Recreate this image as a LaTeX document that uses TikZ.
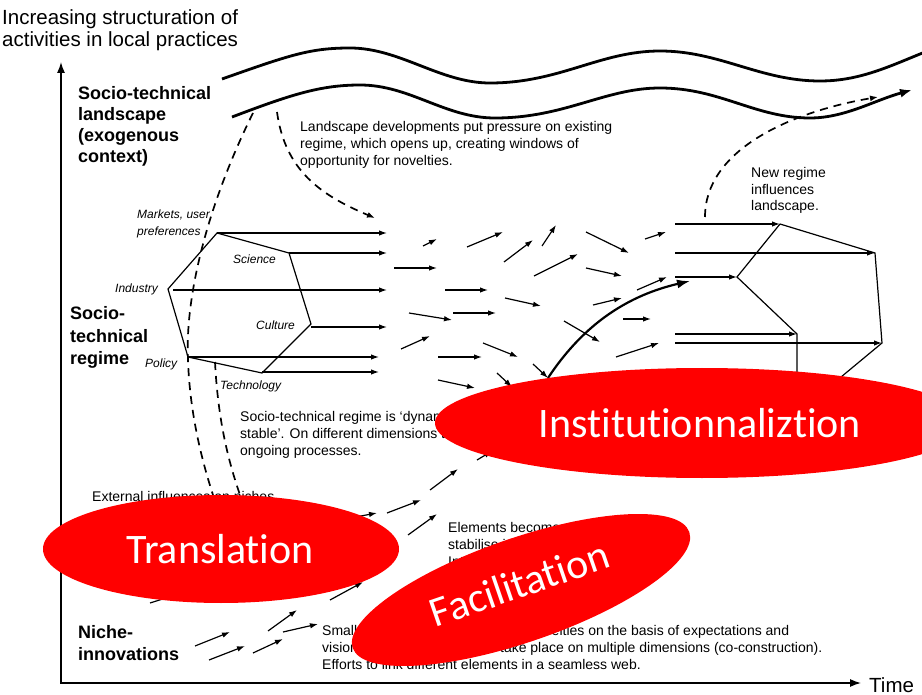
\documentclass[tikz,border=0pt]{standalone}
\usepackage{fontspec}
\setmainfont{Liberation Sans}
\newfontfamily\calib[Ligatures=NoCommon]{Carlito}
\usetikzlibrary{arrows.meta,shapes.geometric}
\newcommand\farr[3]{\coordinate (#1a) at (#2); \coordinate (#1b) at (#3); \draw[arr] (#1a) -- (#1b);}
\begin{document}
\begin{tikzpicture}[x=1pt,y=-1pt,
  txt/.style={font=\fontsize{14}{16}\selectfont, inner sep=0pt, anchor=base west},
  itl/.style={font=\fontsize{12}{14}\selectfont\itshape, inner sep=0pt, anchor=base west},
  bld/.style={font=\fontsize{18}{21}\selectfont\bfseries, inner sep=0pt, anchor=base west},
  big/.style={font=\fontsize{20.5}{22}\selectfont, inner sep=0pt, anchor=base west},
  arr/.style={-{Latex[length=8pt,width=5.5pt]}, line width=1.2pt},
  wave/.style={line width=2.8pt},
  dsh/.style={line width=1.7pt, dash pattern=on 8pt off 6pt},
  redell/.style={ellipse, fill=red, draw=none, inner sep=0pt},
  redtxt/.style={font=\fontsize{42}{45}\calib, text=white, inner sep=0pt, anchor=base}
]
\useasboundingbox[fill=white] (0,0) rectangle (922,695);

% axes
\coordinate (o) at (61,683);
\coordinate (ytop) at (61,62);
\coordinate (xend) at (861,683);
\draw[line width=1.3pt, -{Latex[length=11pt,width=8pt]}] (o) -- (ytop);
\draw[line width=1.3pt, -{Latex[length=11pt,width=8pt]}] (60,683) -- (xend);
\node[big] (time) at (869,692) {Time};
\node[big] (ttl1) at (2,25) {Increasing structuration of};
\node[big] (ttl2) at (2,47) {activities in local practices};

% level labels
\node[bld] (l1) at (78,100) {Socio-technical};
\node[bld] (l2) at (78,121) {landscape};
\node[bld] (l3) at (78,142) {(exogenous};
\node[bld] (l4) at (78,163) {context)};
\node[bld] (r1) at (70,320) {Socio-};
\node[bld] (r2) at (70,342) {technical};
\node[bld] (r3) at (70,364) {regime};
\node[bld] (ni1) at (78,638) {Niche-};
\node[bld] (ni2) at (78,660) {innovations};

% landscape waves
\draw[wave] (222,79) .. controls (290,55) and (310,48) .. (350,48)
  .. controls (400,48) and (440,83) .. (490,83)
  .. controls (560,83) and (600,51) .. (660,51)
  .. controls (720,51) and (760,81) .. (820,81)
  .. controls (860,81) and (890,66) .. (925,52);
\coordinate (wtip) at (912,90);
\draw[wave, -{Latex[length=12pt,width=9pt]}] (232,117) .. controls (290,95) and (320,85) .. (360,85)
  .. controls (410,85) and (445,118) .. (495,118)
  .. controls (565,118) and (605,88) .. (660,88)
  .. controls (720,88) and (755,118) .. (810,118)
  .. controls (845,118) and (875,100) .. (wtip);

% landscape texts
\node[txt] (lt1) at (300,132) {Landscape developments put pressure on existing};
\node[txt] (lt2) at (300,149) {regime, which opens up, creating windows of};
\node[txt] (lt3) at (300,166) {opportunity for novelties.};
\node[txt] (nr1) at (751,178) {New regime};
\node[txt] (nr2) at (751,195) {influences};
\node[txt] (nr3) at (751,211) {landscape.};

% dashed lines
\coordinate (da0) at (253,113);
\coordinate (da1) at (213,495);
\draw[dsh] (da0) .. controls (205,210) and (185,300) .. (188,360) .. controls (190,420) and (205,470) .. (da1);
\coordinate (db0) at (277,112);
\coordinate (db1) at (375,218);
\draw[dsh, -{Latex[length=8pt,width=6pt]}] (db0) .. controls (285,170) and (320,195) .. (db1);
\coordinate (dc0) at (215,362);
\coordinate (dc1) at (240,495);
\draw[dsh] (dc0) .. controls (218,420) and (228,460) .. (dc1);
\coordinate (dd0) at (705,217);
\coordinate (dd1) at (878,97);
\draw[dsh, -{Latex[length=8pt,width=6pt]}] (dd0) .. controls (705,150) and (790,112) .. (dd1);

% left hexagon
\coordinate (hm) at (217,233);
\coordinate (hs) at (289,253);
\coordinate (hc) at (311,324);
\coordinate (ht) at (262,373);
\coordinate (hp) at (188,357);
\coordinate (hi) at (168,289);
\draw[line width=1.2pt] (hm) -- (hs) -- (hc) -- (ht) -- (hp) -- (hi) -- cycle;
\coordinate (e1) at (387,233);
\coordinate (e2) at (387,253);
\coordinate (e3a) at (173,290);
\coordinate (e3) at (387,290);
\coordinate (e4) at (387,327);
\coordinate (e5) at (379,357);
\coordinate (e6) at (379,372);
\draw[arr] (hm) -- (e1);
\draw[arr] (hs) -- (e2);
\draw[arr] (e3a) -- (e3);
\draw[arr] (311,327) -- (e4);
\draw[arr] (hp) -- (e5);
\draw[arr] (262,372) -- (e6);
\node[itl] (mk1) at (137,219) {Markets, user};
\node[itl] (mk2) at (137,236) {preferences};
\node[itl] (sci) at (233,264) {Science};
\node[itl] (ind) at (115,293) {Industry};
\node[itl] (cul) at (256,330) {Culture};
\node[itl] (pol) at (145,367) {Policy};
\node[itl] (tec) at (220,389) {Technology};

% scattered regime arrows
\farr{m1}{423,246}{437,239}
\farr{m2}{467,247}{503,232}
\farr{m3}{504,262}{533,240}
\farr{m4}{542,246}{556,225}
\farr{m5}{586,232}{629,253}
\farr{m6}{645,239}{666,232}
\farr{m7}{394,268}{437,268}
\farr{m8}{534,276}{578,254}
\farr{m9}{586,268}{622,276}
\farr{m10}{445,290}{488,290}
\farr{m11}{505,298}{541,306}
\farr{m12}{637,290}{667,277}
\farr{m13}{593,305}{622,298}
\farr{m14}{409,313}{452,320}
\farr{m15}{453,313}{496,313}
\farr{m16}{623,319}{651,319}
\farr{m17}{564,321}{600,342}
\farr{m18}{401,349}{430,336}
\farr{m19}{438,357}{482,357}
\farr{m20}{483,343}{518,357}
\farr{m21}{616,357}{659,343}
\farr{m22}{438,380}{475,388}
\farr{m23}{497,373}{512,387}
\farr{m24}{533,364}{548,378}

% thick breakthrough arrow
\coordinate (k0) at (548,378);
\coordinate (k1) at (690,281);
\draw[line width=2.2pt, -{Latex[length=13pt,width=9pt]}] (k0) .. controls (585,322) and (630,295) .. (k1);

% right polygon
\coordinate (ra) at (780,224);
\coordinate (rb) at (875,253);
\coordinate (rc) at (737,277);
\coordinate (rd) at (797,334);
\coordinate (re) at (882,343);
\coordinate (rf) at (835,382);
\coordinate (rg) at (797,382);
\draw[line width=1.2pt] (ra) -- (rb) -- (re) -- (rf);
\draw[line width=1.2pt] (ra) -- (rc) -- (rd) -- (rg);
\coordinate (s1) at (675,224);
\coordinate (s2) at (675,253);
\coordinate (s3) at (675,277);
\coordinate (s4) at (675,334);
\coordinate (s5) at (675,343);
\draw[arr] (s1) -- (ra);
\draw[arr] (s2) -- (rb);
\draw[arr] (s3) -- (rc);
\draw[arr] (s4) -- (rd);
\draw[arr] (s5) -- (re);

% regime text
\node[txt] (rt1) at (240,421) {Socio-technical regime is `dynamically};
\node[txt] (rt2) at (240,438) {stable'. On different dimensions there are};
\node[txt] (rt3) at (240,455) {ongoing processes.};

% niche texts
\node[txt] (ex1) at (92,501) {External influences on niches};
\node[txt] (el1) at (448,532) {Elements become aligned, and};
\node[txt] (el2) at (448,549) {stabilise in a dominant design.};
\node[txt] (el3) at (448,566) {Internal momentum increases.};
\node[txt] (sn1) at (322,635) {Small networks of actors support novelties on the basis of expectations and};
\node[txt] (sn2) at (322,652) {visions. Learning processes take place on multiple dimensions (co-construction).};
\node[txt] (sn3) at (322,669) {Efforts to link different elements in a seamless web.};

% niche arrows
\farr{n1}{195,646}{230,632}
\farr{n2}{209,660}{245,646}
\farr{n3}{253,653}{283,639}
\farr{n4}{268,631}{297,610}
\farr{n5}{283,632}{318,624}
\farr{n6}{330,600}{363,582}
\farr{n7}{387,513}{421,500}
\farr{n8}{408,535}{437,514}
\farr{n9}{430,490}{458,469}
\farr{n10}{477,460}{492,451}
\farr{n11}{150,603}{185,592}
\farr{n12}{350,518}{377,513}

% red overlays
\node[redell, minimum width=356pt, minimum height=108pt] (trE) at (221,549) {};
\node[redtxt] (trT) at (220,563) {Translation};
\node[redell, minimum width=534pt, minimum height=110pt] (inE) at (702,423) {};
\node[redtxt] (inT) at (700,437) {Institutionnaliztion};
\node[redell, minimum width=356pt, minimum height=104pt, rotate=19] (faE) at (521,590) {};
\node[redtxt, rotate=19] (faT) at (524,597) {Facilitation};
\end{tikzpicture}
\end{document}
